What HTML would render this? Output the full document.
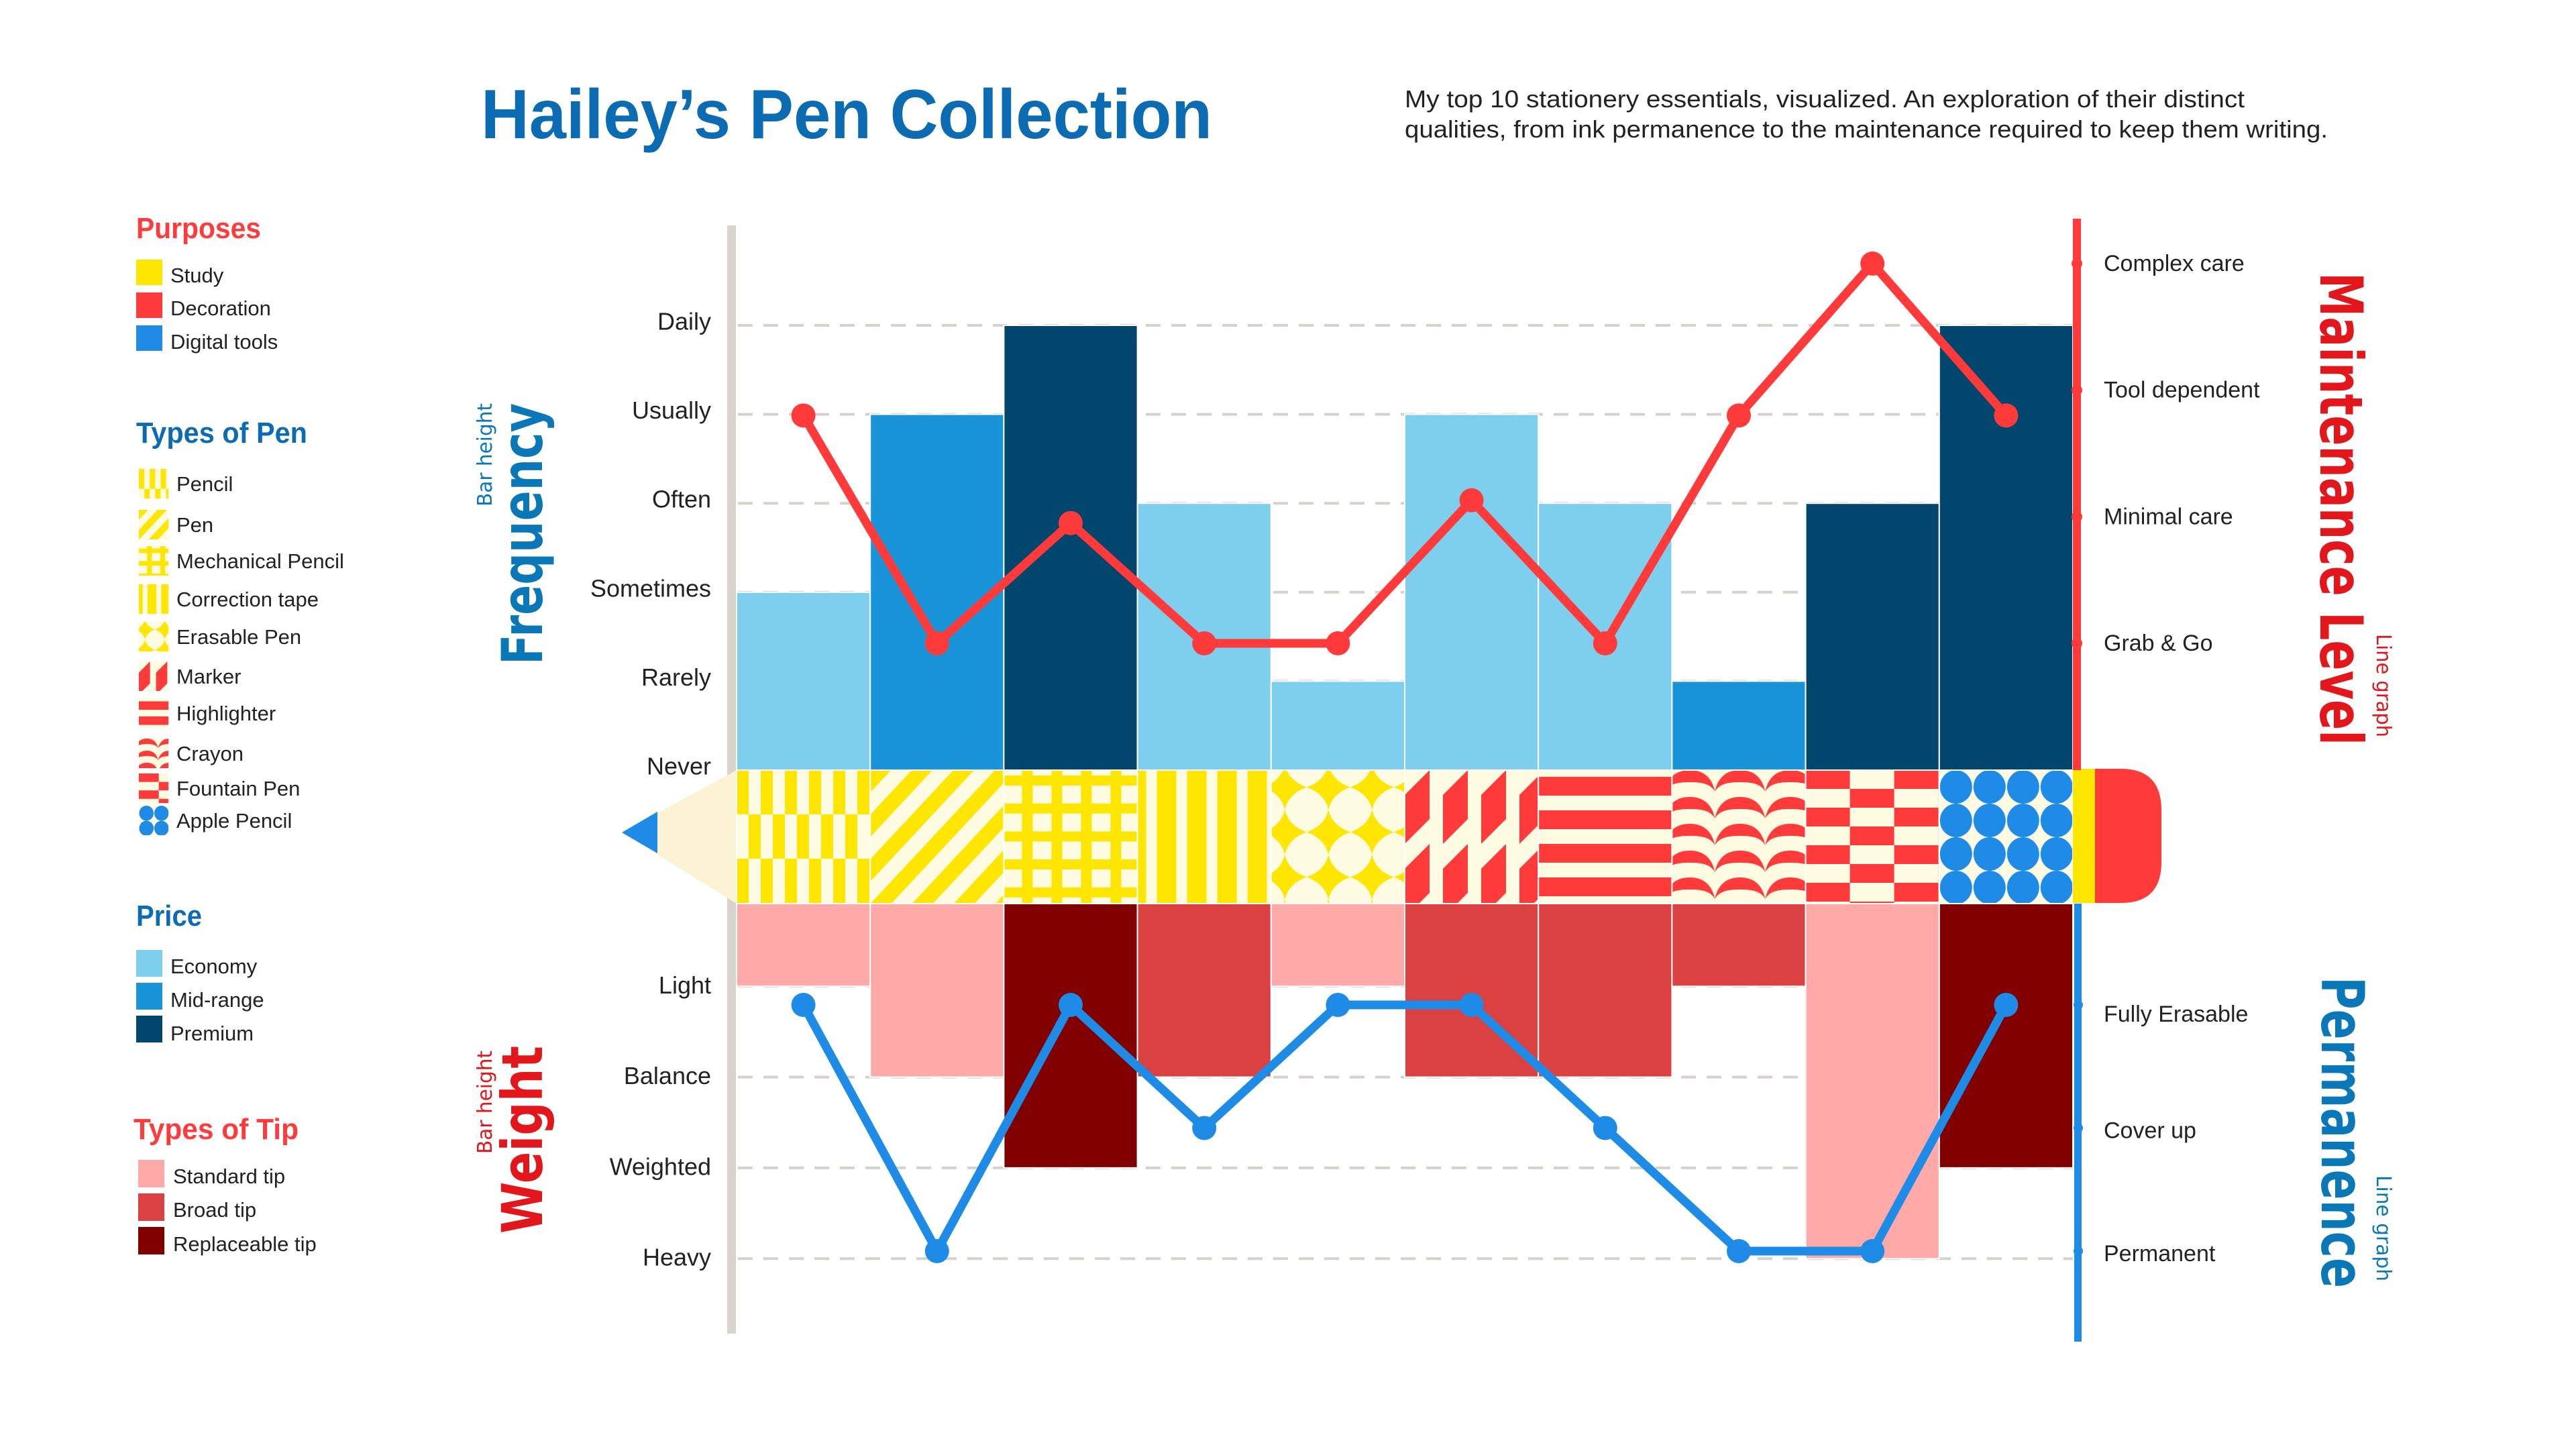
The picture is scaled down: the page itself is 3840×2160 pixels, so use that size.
<!DOCTYPE html>
<html><head><meta charset="utf-8"><style>
html,body{margin:0;padding:0;background:#fff;}
svg{display:block;font-family:"Liberation Sans",sans-serif;}
</style></head><body>
<svg id="chart" width="3840" height="2160" viewBox="0 0 3840 2160" xmlns="http://www.w3.org/2000/svg">
<defs>
 <pattern id="p-pencil" patternUnits="userSpaceOnUse" width="36" height="132"><rect width="36" height="132" fill="#fdfbe1"/><rect x="0" y="0" width="18" height="66" fill="#ffe600"/><rect x="18" y="66" width="18" height="66" fill="#ffe600"/></pattern>
 <pattern id="p-pen" patternUnits="userSpaceOnUse" width="62" height="62" patternTransform="skewX(-43)"><rect width="62" height="62" fill="#fdfbe1"/><rect x="0" width="31" height="62" fill="#ffe600"/></pattern>
 <pattern id="p-mech" patternUnits="userSpaceOnUse" width="44" height="41.7"><rect width="44" height="41.7" fill="#fdfbe1"/><rect x="27" width="16" height="41.7" fill="#ffe600"/><rect y="8" width="44" height="15" fill="#ffe600"/></pattern>
 <pattern id="p-tape" patternUnits="userSpaceOnUse" width="45" height="10"><rect width="45" height="10" fill="#ffe600"/><rect x="13" width="16" height="10" fill="#fdfbe1"/></pattern>
 <pattern id="p-eras" patternUnits="userSpaceOnUse" x="-12" y="-8" width="65" height="67"><rect width="65" height="67" fill="#fdfbe1"/>
  <path d="M32.5,0 Q38,24 65,33.5 Q38,43 32.5,67 Q27,43 0,33.5 Q27,24 32.5,0Z" fill="#ffe600"/></pattern>
 <pattern id="p-marker" patternUnits="userSpaceOnUse" width="57" height="110"><rect width="57" height="110" fill="#fdfbe1"/><polygon points="0,37 37,0 37,73 0,110" fill="#ff3a3a"/></pattern>
 <pattern id="p-high" patternUnits="userSpaceOnUse" width="10" height="50"><rect width="10" height="50" fill="#fdfbe1"/><rect y="10" width="10" height="28" fill="#ff3a3a"/></pattern>
 <pattern id="p-crayon" patternUnits="userSpaceOnUse" x="-11" width="75" height="40"><rect width="75" height="40" fill="#fdfbe1"/><path d="M0,32 C5,8 20,0 37.5,0 C55,0 70,8 75,32 C68,20 55,18 37.5,18 C20,18 7,20 0,32 Z" fill="#ff3a3a"/></pattern>
 <pattern id="p-fount" patternUnits="userSpaceOnUse" width="132" height="56"><rect width="132" height="56" fill="#fdfbe1"/><rect width="66" height="28" fill="#ff3a3a"/><rect x="66" y="28" width="66" height="28" fill="#ff3a3a"/></pattern>
 <pattern id="p-apple" patternUnits="userSpaceOnUse" width="50" height="50"><rect width="50" height="50" fill="#fdfbe1"/><ellipse cx="25" cy="25" rx="24" ry="25" fill="#1e8ce6"/></pattern>
</defs>

<!-- Title -->
<text x="717" y="206" font-size="104" font-weight="bold" fill="#0b6cb4" textLength="1090" lengthAdjust="spacingAndGlyphs">Hailey’s Pen Collection</text>
<text x="2094" y="160" font-size="36" fill="#222" textLength="1252" lengthAdjust="spacingAndGlyphs">My top 10 stationery essentials, visualized. An exploration of their distinct</text>
<text x="2094" y="205" font-size="36" fill="#222" textLength="1376" lengthAdjust="spacingAndGlyphs">qualities, from ink permanence to the maintenance required to keep them writing.</text>

<!-- Legend -->
<g font-size="31" fill="#222">
 <text x="203" y="355" font-size="44" font-weight="bold" fill="#ff3b3b" textLength="186" lengthAdjust="spacingAndGlyphs">Purposes</text>
 <rect x="203" y="387" width="39" height="38" fill="#ffe600"/>
 <text x="254" y="421">Study</text>
 <rect x="203" y="436" width="39" height="38" fill="#ff3a3a"/>
 <text x="254" y="470">Decoration</text>
 <rect x="203" y="485" width="39" height="38" fill="#1e8ce6"/>
 <text x="254" y="520">Digital tools</text>

 <text x="203" y="660" font-size="44" font-weight="bold" fill="#0b6cb4" textLength="255" lengthAdjust="spacingAndGlyphs">Types of Pen</text>
 <g id="penLegend"></g>

 <text x="203" y="1380" font-size="44" font-weight="bold" fill="#0b6cb4" textLength="98" lengthAdjust="spacingAndGlyphs">Price</text>
 <rect x="203" y="1416" width="39" height="40" fill="#7dcfed"/>
 <text x="254" y="1451">Economy</text>
 <rect x="203" y="1465" width="39" height="40" fill="#1a94d9"/>
 <text x="254" y="1501">Mid-range</text>
 <rect x="203" y="1514" width="39" height="40" fill="#02466d"/>
 <text x="254" y="1551">Premium</text>

 <text x="199" y="1698" font-size="44" font-weight="bold" fill="#ff3b3b" textLength="246" lengthAdjust="spacingAndGlyphs">Types of Tip</text>
 <rect x="206" y="1729" width="39" height="41" fill="#ffa9a8"/>
 <text x="258" y="1764">Standard tip</text>
 <rect x="206" y="1779" width="39" height="41" fill="#dc4141"/>
 <text x="258" y="1814">Broad tip</text>
 <rect x="206" y="1829" width="39" height="41" fill="#800000"/>
 <text x="258" y="1865">Replaceable tip</text>
</g>

<!-- Axis titles -->
<text transform="translate(808,991) rotate(-90)" font-family="DejaVu Sans, sans-serif" font-size="84" font-weight="bold" fill="#0a78b8" textLength="390" lengthAdjust="spacingAndGlyphs">Frequency</text>
<text transform="translate(733,755) rotate(-90)" font-family="DejaVu Sans, sans-serif" font-size="30" fill="#0a78b8" textLength="154" lengthAdjust="spacingAndGlyphs">Bar height</text>
<text transform="translate(808,1839) rotate(-90)" font-family="DejaVu Sans, sans-serif" font-size="84" font-weight="bold" fill="#e3161c" textLength="280" lengthAdjust="spacingAndGlyphs">Weight</text>
<text transform="translate(733,1720) rotate(-90)" font-family="DejaVu Sans, sans-serif" font-size="30" fill="#e3161c" textLength="154" lengthAdjust="spacingAndGlyphs">Bar height</text>
<text transform="translate(3459,406) rotate(90)" font-family="DejaVu Sans, sans-serif" font-size="88" font-weight="bold" fill="#e3161c" textLength="705" lengthAdjust="spacingAndGlyphs">Maintenance Level</text>
<text transform="translate(3543,945) rotate(90)" font-family="DejaVu Sans, sans-serif" font-size="30" fill="#e3161c" textLength="154" lengthAdjust="spacingAndGlyphs">Line graph</text>
<text transform="translate(3461,1456) rotate(90)" font-family="DejaVu Sans, sans-serif" font-size="88" font-weight="bold" fill="#0a78b8" textLength="464" lengthAdjust="spacingAndGlyphs">Permanence</text>
<text transform="translate(3543,1752) rotate(90)" font-family="DejaVu Sans, sans-serif" font-size="30" fill="#0a78b8" textLength="158" lengthAdjust="spacingAndGlyphs">Line graph</text>

<g id="plot"></g>
</svg>
<script>
const pens = ['Pencil','Pen','Mechanical Pencil','Correction tape','Erasable Pen','Marker','Highlighter','Crayon','Fountain Pen','Apple Pencil'];
const penPatterns = ['p-pencil','p-pen','p-mech','p-tape','p-eras','p-marker','p-high','p-crayon','p-fount','p-apple'];
const frequency = [2,4,5,3,1,4,3,1,3,5];
const priceTier = ['economy','mid','premium','economy','economy','economy','economy','mid','premium','premium'];
const maintenance = [1.8,0,0.95,0,0,1.13,0,1.8,3,1.8];
const weight = [1,2,3,2,1,2,2,1,4,3];
const tipType = ['standard','standard','replaceable','broad','standard','broad','broad','broad','standard','replaceable'];
const permanence = [2,0,2,1,2,2,1,0,0,2];
const freqTicks = ['Never','Rarely','Sometimes','Often','Usually','Daily'];
const maintTicks = ['Grab & Go','Minimal care','Tool dependent','Complex care'];
const weightTicks = ['','Light','Balance','Weighted','Heavy'];
const permTicks = ['Permanent','Cover up','Fully Erasable'];

const priceColor = {economy:'#7dcfed', mid:'#1a94d9', premium:'#02466d'};
const tipColor = {standard:'#ffa9a8', broad:'#dc4141', replaceable:'#800000'};
const NS = 'http://www.w3.org/2000/svg';
const X0 = 1098, BW = 199.2, PT = 1148, PB = 1347;
const xL = i => X0 + BW * i;
const xC = i => X0 + BW * (i + 0.5);
const freqY = v => PT - v * 132.6;
const maintY = v => 959 - v * 188.7;
const weightY = v => 1335 + v * 135.3;
const permY = v => 1865 - v * 183.5;
const plot = document.getElementById('plot');
function mk(tag, attrs, parent) {
  const e = document.createElementNS(NS, tag);
  for (const k in attrs) e.setAttribute(k, attrs[k]);
  (parent || plot).appendChild(e);
  return e;
}
const XR = X0 + BW * pens.length;

let ax = mk('rect', {x:1084, y:336, width:13, height:1652, fill:'#d8d4cc'});



freqTicks.forEach((t, v) => {
  if (v > 0) {
    const g = mk('line', {x1:1100, x2:XR, y1:freqY(v), y2:freqY(v), stroke:'#d6d2cb', 'stroke-width':4, 'stroke-dasharray':'22 16'});
    
    
  }
  const tx = mk('text', {x:1060, y:freqY(v) - 6, 'text-anchor':'end', 'dominant-baseline':'central', 'font-size':36, fill:'#222'});
  tx.textContent = t;
  
  
});
weightTicks.forEach((t, v) => {
  if (v === 0) return;
  const g = mk('line', {x1:1100, x2:XR, y1:weightY(v), y2:weightY(v), stroke:'#d6d2cb', 'stroke-width':4, 'stroke-dasharray':'22 16'});
  
  
  const tx = mk('text', {x:1060, y:weightY(v) - 2, 'text-anchor':'end', 'dominant-baseline':'central', 'font-size':36, fill:'#222'});
  tx.textContent = t;
  
  
});

frequency.forEach((v, i) => {
  const r = mk('rect', {x:xL(i), y:freqY(v), width:BW, height:PT - freqY(v), fill:priceColor[priceTier[i]], stroke:'#fff', 'stroke-width':2});
  
  
});
weight.forEach((v, i) => {
  const r = mk('rect', {x:xL(i), y:PB, width:BW, height:weightY(v) - PB, fill:tipColor[tipType[i]], stroke:'#fff', 'stroke-width':2});
  
  
});

let tip = mk('polygon', {points:`${X0},${PT} 927,1241 ${X0},${PB}`, fill:'#fbf3d3'});


let lead = mk('polygon', {points:'980,1210 927,1241 980,1272', fill:'#1e8ce6'});



pens.forEach((p, i) => {
  const g = mk('g', {transform:`translate(${xL(i)},${PT})`});
  
  
  mk('rect', {x:0, y:0, width:BW, height:PB - PT, fill:`url(#${penPatterns[i]})`, stroke:'#fff', 'stroke-width':2}, g);
});
let band = mk('rect', {x:XR, y:PT - 2, width:33, height:PB - PT + 1, fill:'#ffe600'});


let eraser = mk('path', {d:`M${XR+33},${PT-2} H${XR+72} Q${XR+132},${PT-2} ${XR+132},${PT+60} V${PB-62} Q${XR+132},${PB-1} ${XR+72},${PB-1} H${XR+33} Z`, fill:'#ff3a3a'});



let ra = mk('rect', {x:XR, y:326, width:12, height:PT - 326, fill:'#ff3a3a'});


let ba = mk('rect', {x:XR + 2, y:PB, width:11, height:653, fill:'#1e8ce6'});


maintTicks.forEach((t, v) => {
  const c = mk('circle', {cx:XR + 6, cy:maintY(v), r:8, fill:'#ff3a3a'});
  
  
  const tx = mk('text', {x:3136, y:maintY(v), 'dominant-baseline':'central', 'font-size':34, fill:'#222'});
  tx.textContent = t;
  
  
});
permTicks.forEach((t, v) => {
  const c = mk('circle', {cx:XR + 8, cy:permY(v), r:7, fill:'#1e8ce6'});
  
  
  const tx = mk('text', {x:3136, y:permY(v) + (v === 2 ? 14 : 4), 'dominant-baseline':'central', 'font-size':34, fill:'#222'});
  tx.textContent = t;
  
  
});

let mline = mk('polyline', {points:maintenance.map((v, i) => `${xC(i)},${maintY(v)}`).join(' '), fill:'none', stroke:'#ff3a3a', 'stroke-width':13, 'stroke-linejoin':'round'});


maintenance.forEach((v, i) => {
  const c = mk('circle', {cx:xC(i), cy:maintY(v), r:18, fill:'#ff3a3a'});
  
  
});
let pline = mk('polyline', {points:permanence.map((v, i) => `${xC(i)},${permY(v)}`).join(' '), fill:'none', stroke:'#1e8ce6', 'stroke-width':13, 'stroke-linejoin':'round'});


permanence.forEach((v, i) => {
  const c = mk('circle', {cx:xC(i), cy:permY(v), r:18, fill:'#1e8ce6'});
  
  
});

const legendYs = [721, 782, 836, 893, 949, 1008, 1063, 1123, 1175, 1223];
const pl = document.getElementById('penLegend');
pens.forEach((p, i) => {
  const cy = legendYs[i];
  const g = document.createElementNS(NS, 'g');
  g.setAttribute('transform', `translate(207,${cy - 22}) scale(0.45)`);
  
  
  pl.appendChild(g);
  const r = document.createElementNS(NS, 'rect');
  r.setAttribute('width', 98); r.setAttribute('height', 98);
  r.setAttribute('fill', `url(#${penPatterns[i]})`);
  g.appendChild(r);
  const t = document.createElementNS(NS, 'text');
  t.setAttribute('x', 263); t.setAttribute('y', cy + 11);
  t.setAttribute('font-size', 31); t.setAttribute('fill', '#222');
  t.textContent = p;
  
  
  pl.appendChild(t);
});
</script>
</body></html>
